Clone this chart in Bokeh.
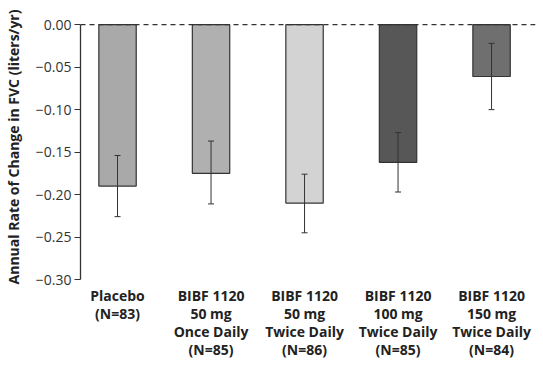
from bokeh.plotting import figure
from bokeh.models import ColumnDataSource, Whisker, Span, FixedTicker, Range1d, TeeHead
from bokeh.embed import file_html
from bokeh.resources import INLINE

groups = ["Placebo\n(N=83)",
          "BIBF 1120\n50 mg\nOnce Daily\n(N=85)",
          "BIBF 1120\n50 mg\nTwice Daily\n(N=86)",
          "BIBF 1120\n100 mg\nTwice Daily\n(N=85)",
          "BIBF 1120\n150 mg\nTwice Daily\n(N=84)"]
rates = [-0.190, -0.175, -0.210, -0.162, -0.061]
err_upper = [-0.154, -0.137, -0.176, -0.127, -0.022]
err_lower = [-0.226, -0.211, -0.245, -0.197, -0.100]
bar_colors = ["#a9a9a9", "#b0b0b0", "#d3d3d3", "#575757", "#6f6f6f"]
y_ticks = [0.0, -0.05, -0.10, -0.15, -0.20, -0.25, -0.30]
y_tick_labels = ["0.00", "\u22120.05", "\u22120.10", "\u22120.15", "\u22120.20", "\u22120.25", "\u22120.30"]

xs = list(range(len(groups)))
src = ColumnDataSource(dict(x=xs, top=[0.0] * len(xs), bottom=rates, color=bar_colors,
                            upper=err_upper, lower=err_lower))

FONT = "Open Sans"
p = figure(width=540, height=365, output_backend="svg", toolbar_location=None,
           x_range=Range1d(-0.396, 4.47), y_range=Range1d(-0.30, 0.012),
           min_border_left=80, min_border_right=5, min_border_top=14, min_border_bottom=86)
p.outline_line_color = None
p.grid.grid_line_color = None
p.background_fill_color = "white"

p.vbar(x="x", width=0.40, top="top", bottom="bottom", fill_color="color",
       line_color="#333333", line_width=1.2, source=src)

p.add_layout(Span(location=0, dimension="width", line_color="#333333",
                  line_dash="5 4", line_width=1.2))

w = Whisker(base="x", upper="upper", lower="lower", source=src, level="overlay",
            line_color="#333333", line_width=1,
            upper_head=TeeHead(size=6, line_color="#333333", line_width=1),
            lower_head=TeeHead(size=6, line_color="#333333", line_width=1))
p.add_layout(w)

# y axis
ya = p.yaxis[0]
ya.ticker = FixedTicker(ticks=y_ticks)
ya.major_label_overrides = {t: l for t, l in zip(y_ticks, y_tick_labels)}
ya.bounds = (-0.30, 0.0)
ya.minor_tick_line_color = None
ya.major_tick_in = 0
ya.major_tick_out = 6
ya.axis_line_color = "#333333"
ya.axis_line_width = 1.3
ya.major_tick_line_color = "#333333"
ya.major_label_text_font = FONT
ya.major_label_text_font_size = "14px"
ya.major_label_text_color = "#333333"
ya.major_label_standoff = 3
ya.axis_label = "Annual Rate of Change in FVC (liters/yr)"
ya.axis_label_text_font = FONT
ya.axis_label_text_font_style = "bold"
ya.axis_label_text_font_size = "14px"
ya.axis_label_text_color = "#222222"
ya.axis_label_standoff = 10

# x axis with category labels
xa = p.xaxis[0]
xa.ticker = FixedTicker(ticks=xs)
xa.major_label_overrides = {i: g for i, g in zip(xs, groups)}
xa.axis_line_color = None
xa.major_tick_line_color = None
xa.minor_tick_line_color = None
xa.major_label_text_font = FONT
xa.major_label_text_font_style = "bold"
xa.major_label_text_font_size = "14px"
xa.major_label_text_line_height = 0.95
xa.major_label_text_color = "#222222"
xa.major_label_standoff = 0

open("out.html", "w").write(file_html(p, INLINE))
